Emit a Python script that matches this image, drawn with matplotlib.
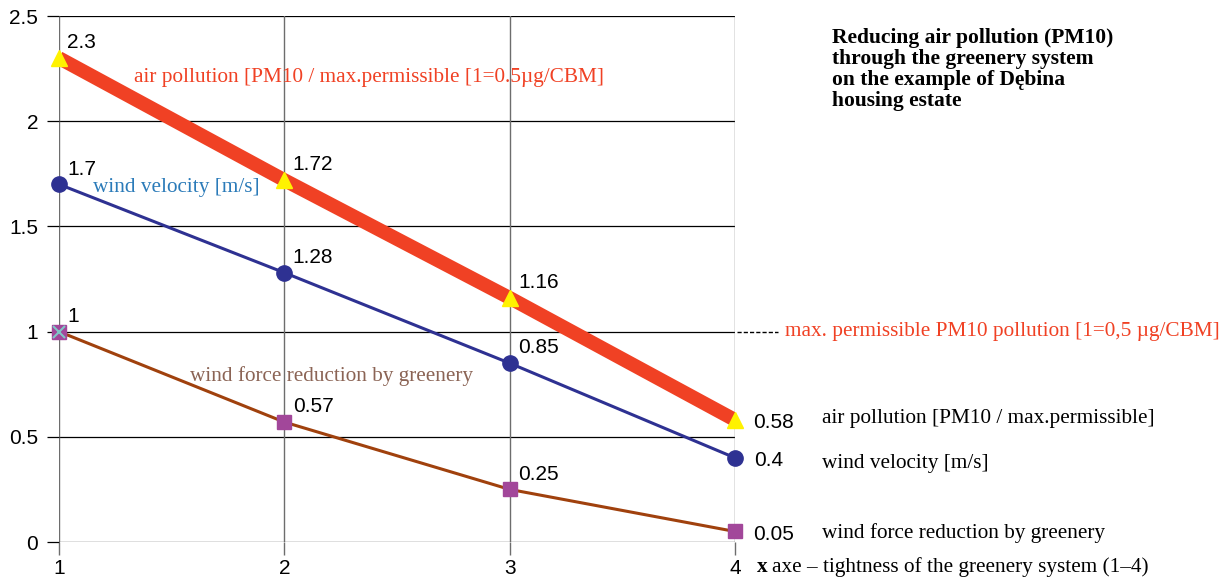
import numpy as np
import matplotlib.pyplot as plt

# ----------------------------------
# data
x_vals = [1, 2, 3, 4]
air_pollution = [2.3, 1.72, 1.16, 0.58]
wind_velocity = [1.7, 1.28, 0.85, 0.4]
wind_force = [1.0, 0.57, 0.25, 0.05]
y_ticks = [0, 0.5, 1, 1.5, 2, 2.5]
y_tick_labels = ['0', '0.5', '1', '1.5', '2', '2.5']

title_lines = ["Reducing air pollution (PM10)",
               "through the greenery system",
               "on the example of Dębina",
               "housing estate"]

# ----------------------------------
# styles
c_red = '#F04124'
c_yellow = '#FFF200'
c_blue = '#2E3192'
c_brown = '#A0410D'
c_mag = '#A2479A'
sans = 'Liberation Sans'
serif = 'Liberation Serif'
fs_num = 15
fs_txt = 15.3

fig = plt.figure(figsize=(12.29, 5.80), dpi=100)
ax = fig.add_axes([59/1229, 1-542/580, 676/1229, 526/580])

ax.set_xlim(1, 4)
ax.set_ylim(0, 2.5)
for s in ax.spines.values():
    s.set_visible(False)

# grid
for yv in y_ticks:
    ax.axhline(yv, color='black', lw=0.9, zorder=1)
for xv in x_vals:
    ax.axvline(xv, color='#6d6d6d', lw=1.0, zorder=1)

ax.set_xticks(x_vals)
ax.set_xticklabels([str(v) for v in x_vals], fontsize=fs_num, family=sans)
ax.set_yticks(y_ticks)
ax.set_yticklabels(y_tick_labels, fontsize=fs_num, family=sans)
ax.tick_params(axis='x', length=9, width=1.0, color='#6d6d6d', pad=3)
ax.tick_params(axis='y', length=9, width=0.9, color='black', pad=6)

# lines
ax.plot(x_vals, air_pollution, color=c_red, lw=10, zorder=3, solid_capstyle='butt')
ax.plot(x_vals, air_pollution, ls='none', marker='^', ms=11, color=c_yellow,
        mec=c_yellow, zorder=4, clip_on=False)
ax.plot(x_vals, wind_velocity, color=c_blue, lw=2.2, marker='o', ms=11,
        mfc=c_blue, mec=c_blue, zorder=3, clip_on=False)
ax.plot(x_vals, wind_force, color=c_brown, lw=2.2, zorder=3)
ax.plot(x_vals, wind_force, ls='none', marker='s', ms=10, color=c_mag, zorder=4,
        clip_on=False)
ax.plot(x_vals[:1], wind_force[:1], ls='none', marker='x', ms=9, mew=1.5,
        color='#7FC6C6', zorder=5, clip_on=False)

# data labels
def put_labels(vals, last_off):
    for i, (xv, yv) in enumerate(zip(x_vals, vals)):
        lab = ('%g' % yv)
        off = (6, 11) if i < len(vals) - 1 else last_off
        ax.annotate(lab, (xv, yv), xytext=off, textcoords='offset points',
                    fontsize=fs_num, family=sans, ha='left', va='center',
                    annotation_clip=False, zorder=6)

put_labels(air_pollution, (13, -2))
put_labels(wind_velocity, (14, -2))
put_labels(wind_force, (13, -2))

# series labels inside
ax.text(1.333, 2.206, 'air pollution [PM10 / max.permissible [1=0.5µg/CBM]',
        color=c_red, fontsize=fs_txt, family=serif, va='center', ha='left')
ax.text(1.151, 1.684, 'wind velocity [m/s]', color='#2B7BB9', fontsize=fs_txt,
        family=serif, va='center', ha='left')
ax.text(1.581, 0.787, 'wind force reduction by greenery', color='#8B6455',
        fontsize=fs_txt, family=serif, va='center', ha='left')

# right side labels
ax.plot([4.009, 4.19], [1, 1], color='black', lw=1.0, ls=(0, (3, 1.5)), clip_on=False)
ax.text(4.222, 1.0, 'max. permissible PM10 pollution [1=0,5 µg/CBM]', color=c_red,
        fontsize=fs_txt, family=serif, va='center', ha='left')
ax.text(4.386, 0.586, 'air pollution [PM10 / max.permissible]', fontsize=fs_txt,
        family=serif, va='center', ha='left')
ax.text(4.386, 0.375, 'wind velocity [m/s]', fontsize=fs_txt, family=serif,
        va='center', ha='left')
ax.text(4.386, 0.043, 'wind force reduction by greenery', fontsize=fs_txt, family=serif,
        va='center', ha='left')

# x axis caption
fig.text(757/1229, 1-567/580, 'x', fontsize=fs_txt, family=serif, weight='bold',
         va='center', ha='left')
fig.text(772/1229, 1-567/580, 'axe – tightness of the greenery system (1–4)',
         fontsize=fs_txt, family=serif, va='center', ha='left')

# title
fig.text(832/1229, 1-28/580, '\n'.join(title_lines), fontsize=15.5, family=serif,
         weight='bold', va='top', ha='left', linespacing=1.06)

fig.savefig('out.png', dpi=100)
